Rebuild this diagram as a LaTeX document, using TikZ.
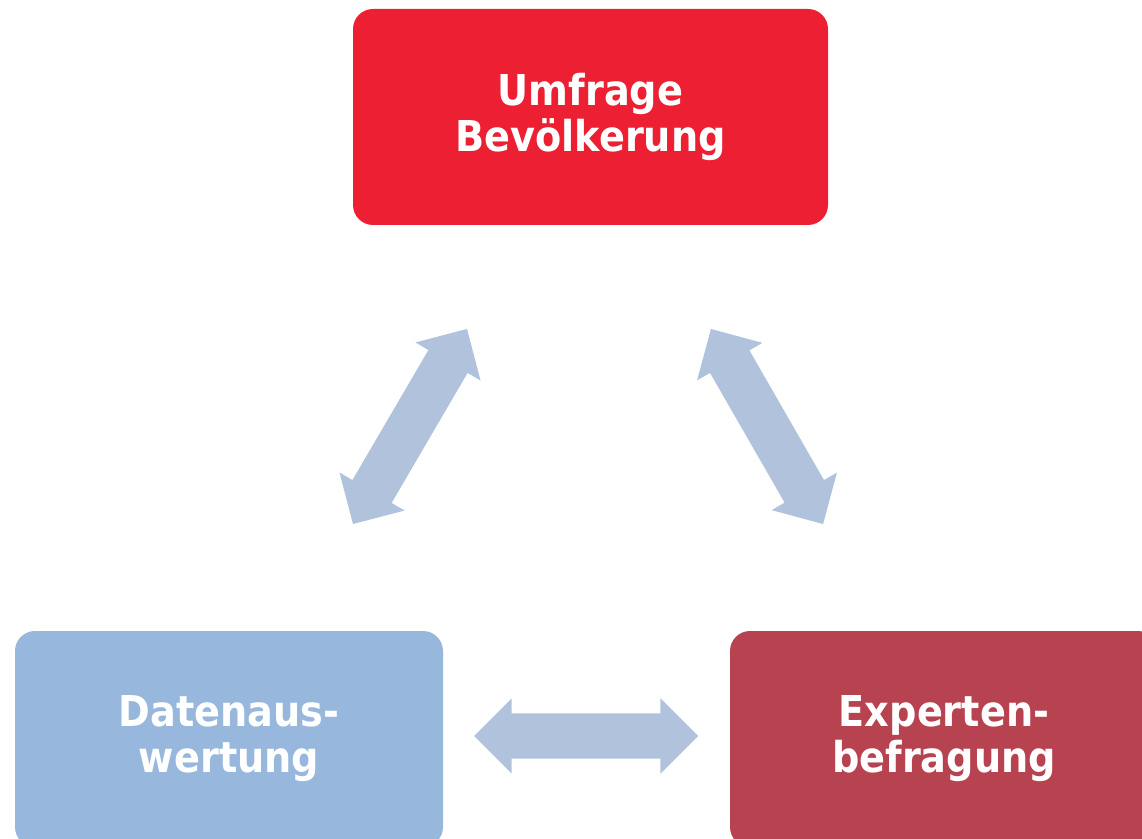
\documentclass[tikz,border=0pt]{standalone}
\usepackage{fontspec}
\setmainfont{DejaVu Sans}[FakeStretch=0.9]
\usepackage{tikz}
\usetikzlibrary{shapes.arrows}
\usetikzlibrary{positioning}
\definecolor{umfred}{RGB}{237,31,51}
\definecolor{datblue}{RGB}{152,183,221}
\definecolor{expred}{RGB}{183,67,80}
\definecolor{flowblue}{RGB}{176,194,220}
\tikzset{every picture/.style={x=1pt,y=1pt}}

\begin{document}
\begin{tikzpicture}[box/.style={rounded corners=20pt,text=white,align=center,inner sep=0pt,font=\bfseries\fontsize{42.5}{46}\selectfont},flow/.style={double arrow,fill=flowblue,inner xsep=0pt,inner ysep=22.5pt,minimum width=75pt,double arrow head extend=15pt,double arrow tip angle=90}]
\clip (0,0) rectangle (1142,838);
\useasboundingbox (0,0) rectangle (1142,838);
\node (umf) [box,fill=umfred,minimum width=475pt,minimum height=216pt] at (590.5,721) {Umfrage\\Bevölkerung};
\node (dat) [box,fill=datblue,minimum width=428pt,minimum height=216pt] at (229,99) {Datenaus-\\wertung};
\node (exp) [box,fill=expred,minimum width=428pt,minimum height=216pt] at (944,99) {Experten-\\befragung};
\node (fl) [flow,minimum height=226pt,rotate=59.7] at (410,411.5) {};
\node (fr) [flow,minimum height=225pt,rotate=-60.1] at (767,411.5) {};
\node (fd) [flow,minimum height=224pt] at (586,102) {};
\end{tikzpicture}
\end{document}
